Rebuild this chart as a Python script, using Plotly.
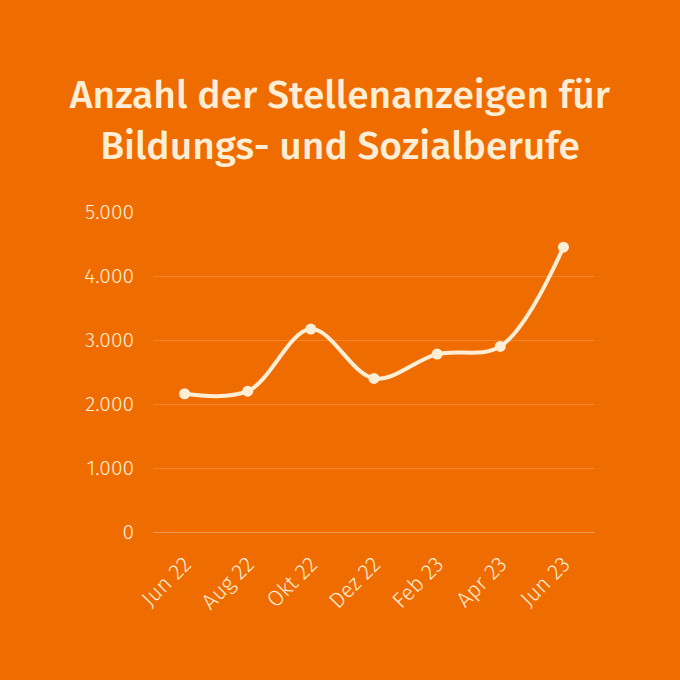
import plotly.graph_objects as go

categories = ["Jun 22", "Aug 22", "Okt 22", "Dez 22", "Feb 23", "Apr 23", "Jun 23"]
values = [2160, 2200, 3170, 2400, 2780, 2900, 4450]
y_ticks = [0, 1000, 2000, 3000, 4000, 5000]
y_tick_labels = ["0", "1.000", "2.000", "3.000", "4.000", "5.000"]

bg = "#EF6C00"
cream = "#FFEED6"
grid = "rgba(255,255,255,0.18)"

fig = go.Figure()
fig.add_trace(go.Scatter(
    x=categories, y=values, mode="lines+markers",
    line=dict(color=cream, width=4, shape="spline", smoothing=1.0),
    marker=dict(color=cream, size=11),
    hoverinfo="x+y",
))

fig.update_layout(
    width=680, height=680,
    paper_bgcolor=bg, plot_bgcolor=bg,
    margin=dict(l=153, r=85, t=212, b=148),
    showlegend=False,
    title=dict(
        text="Anzahl der Stellenanzeigen für<br>Bildungs- und Sozialberufe",
        x=0.5, xanchor="center", y=0.841, yanchor="middle",
        font=dict(family="Fira Sans, Open Sans, Lato, sans-serif", size=39, color=cream, weight=500),
    ),
    font=dict(family="Fira Sans, Lato, Open Sans, sans-serif", color=cream),
)
fig.update_xaxes(
    type="category", range=[-0.5, 6.5],
    showgrid=False, showline=False, zeroline=False,
    tickangle=-45, ticks="", ticklabelstandoff=14,
    tickfont=dict(size=22, color=cream, weight=300),
)
fig.update_yaxes(
    range=[0, 5000], tickvals=y_ticks, ticktext=y_tick_labels,
    showgrid=True, gridcolor=grid, gridwidth=1,
    zeroline=True, zerolinecolor="rgba(255,255,255,0.3)", zerolinewidth=1,
    showline=False, ticks="", ticklabelstandoff=18,
    tickfont=dict(size=21, color=cream, weight=300),
)

fig.write_html("out.html", config={"displayModeBar": False},
               post_script="document.body.style.margin='0';")
